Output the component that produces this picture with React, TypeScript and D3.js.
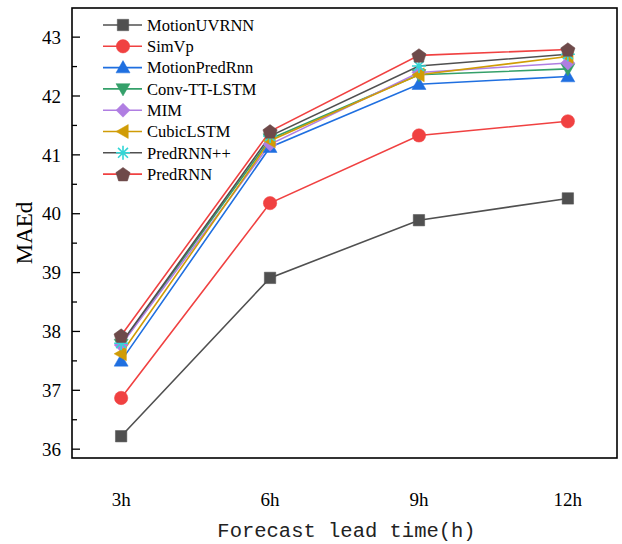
import React from "react";
import * as d3 from "d3";

const categories = ["3h", "6h", "9h", "12h"];
const seriesNames = ["MotionUVRNN", "SimVp", "MotionPredRnn", "Conv-TT-LSTM", "MIM", "CubicLSTM", "PredRNN++", "PredRNN"];
const motionUVRNN = [36.22, 38.91, 39.89, 40.26];
const simVp = [36.87, 40.18, 41.33, 41.57];
const motionPredRnn = [37.5, 41.13, 42.2, 42.33];
const convTTLSTM = [37.78, 41.27, 42.36, 42.46];
const mim = [37.77, 41.18, 42.4, 42.56];
const cubicLSTM = [37.62, 41.24, 42.36, 42.67];
const predRNNpp = [37.8, 41.32, 42.51, 42.71];
const predRNN = [37.93, 41.4, 42.69, 42.79];
const yTicks = [36, 37, 38, 39, 40, 41, 42, 43];

const seriesValues = [motionUVRNN, simVp, motionPredRnn, convTTLSTM, mim, cubicLSTM, predRNNpp, predRNN];
const lineColors = ["#505050", "#f04141", "#1f6fe0", "#34a06a", "#b07ee2", "#d09c06", "#505050", "#f04141"];
const markerColors = ["#505050", "#f04141", "#1f6fe0", "#34a06a", "#b07ee2", "#d09c06", "#33d6d6", "#6e4a4a"];
const markerTypes = ["square", "circle", "triUp", "triDown", "diamond", "triLeft", "asterisk", "pentagon"];

function markerPath(type: string): string {
  const s = 7;
  switch (type) {
    case "square":
      return d3.symbol(d3.symbolSquare, 130)() as string;
    case "circle":
      return d3.symbol(d3.symbolCircle, 140)() as string;
    case "triUp":
      return `M0,${-s}L${s},${s * 0.75}L${-s},${s * 0.75}Z`;
    case "triDown":
      return `M0,${s}L${s},${-s * 0.75}L${-s},${-s * 0.75}Z`;
    case "triLeft":
      return `M${-s},0L${s * 0.75},${-s}L${s * 0.75},${s}Z`;
    case "diamond":
      return `M0,${-s}L${s},0L0,${s}L${-s},0Z`;
    case "pentagon": {
      const r = 7.5;
      const pts = d3.range(5).map((i) => {
        const a = -Math.PI / 2 + (i * 2 * Math.PI) / 5;
        return [r * Math.cos(a), r * Math.sin(a) + 0.8];
      });
      return "M" + pts.map((p) => p.join(",")).join("L") + "Z";
    }
    case "asterisk": {
      const r = 7;
      let p = "";
      for (let i = 0; i < 4; i++) {
        const a = (i * Math.PI) / 4;
        p += `M${-r * Math.cos(a)},${-r * Math.sin(a)}L${r * Math.cos(a)},${r * Math.sin(a)}`;
      }
      return p;
    }
  }
  return "";
}

const serifStyle = { fontFamily: "Liberation Serif" };
const monoStyle = { fontFamily: "Liberation Mono" };

export default function App() {
  const W = 622, H = 544;
  const left = 72, right = 617, top = 8, bottom = 458;
  const x = d3.scaleLinear().domain([-0.33, 3.33]).range([left, right]);
  const y = d3.scaleLinear().domain([35.85, 43.495]).range([bottom, top]);
  const line = d3.line<number>().x((_, i) => x(i)).y((v) => y(v));
  const minor = d3.range(35.5, 43.6, 0.5).filter((v) => v > 35.85 && v < 43.49 && !Number.isInteger(v));

  return (
    <svg width={W} height={H} style={{ position: "absolute", left: 0, top: 0, background: "#fff" }}>
      <rect x={0} y={0} width={W} height={H} fill="#fff" />
      {seriesValues.map((vals, si) => (
        <path key={"l" + si} d={line(vals) as string} fill="none" stroke={lineColors[si]} strokeWidth={1.6} />
      ))}
      {seriesValues.map((vals, si) =>
        vals.map((v, i) => (
          <path
            key={"m" + si + "-" + i}
            d={markerPath(markerTypes[si])}
            transform={`translate(${x(i)},${y(v)})`}
            fill={markerTypes[si] === "asterisk" ? "none" : markerColors[si]}
            stroke={markerColors[si]}
            strokeWidth={markerTypes[si] === "asterisk" ? 1.6 : 0.5}
          />
        ))
      )}
      <rect x={left} y={top} width={right - left} height={bottom - top} fill="none" stroke="#000" strokeWidth={1.6} />
      {yTicks.map((t) => (
        <g key={"yt" + t}>
          <line x1={left} x2={left + 8} y1={y(t)} y2={y(t)} stroke="#000" strokeWidth={1.3} />
          <text x={left - 11} y={y(t)} dy="0.35em" textAnchor="end" style={serifStyle} fontSize={19} fill="#000">
            {t}
          </text>
        </g>
      ))}
      {minor.map((t) => (
        <line key={"ym" + t} x1={left} x2={left + 5} y1={y(t)} y2={y(t)} stroke="#000" strokeWidth={1.3} />
      ))}
      {categories.map((c, i) => (
        <text key={"xt" + c} x={x(i)} y={506} textAnchor="middle" style={serifStyle} fontSize={19} fill="#000">
          {c}
        </text>
      ))}
      <text x={(left + right) / 2 + 2} y={537} textAnchor="middle" style={monoStyle} fontSize={20.5} fill="#222">
        Forecast lead time(h)
      </text>
      <text transform={`translate(32,${(top + bottom) / 2}) rotate(-90)`} textAnchor="middle" style={serifStyle} fontSize={23} fill="#000">
        MAEd
      </text>
      {seriesNames.map((n, i) => {
        const ly = 25 + i * 21.3;
        return (
          <g key={"lg" + i}>
            <line x1={103} x2={142} y1={ly} y2={ly} stroke={lineColors[i]} strokeWidth={1.6} />
            <path
              d={markerPath(markerTypes[i])}
              transform={`translate(123,${ly})`}
              fill={markerTypes[i] === "asterisk" ? "none" : markerColors[i]}
              stroke={markerColors[i]}
              strokeWidth={markerTypes[i] === "asterisk" ? 1.6 : 0.5}
            />
            <text x={147} y={ly} dy="0.35em" style={serifStyle} fontSize={16.5} fill="#000">
              {n}
            </text>
          </g>
        );
      })}
    </svg>
  );
}
